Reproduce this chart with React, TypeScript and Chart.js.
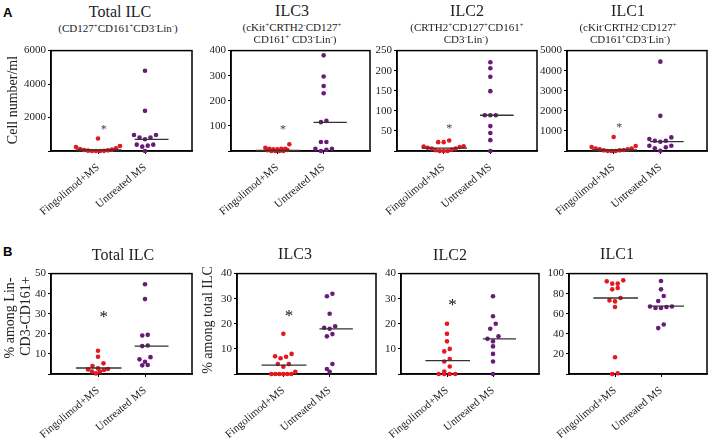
import React, { useEffect, useRef } from "react";
import { Chart, registerables } from "chart.js";

Chart.register(...registerables);

// ---------------- DATA ----------------
const categories = ["Fingolimod+MS", "Untreated MS"];

// Panel A: cell number/ml
const aTotalFingo = [750, 300, 240, 160, 120, 80, 60, 40, 20, 10, 0, 0, 0];
const aTotalUntreated = [4800, 2400, 960, 960, 800, 800, 700, 380, 380, 320, 260, 0];
const aTotalMedians = [60, 700];
const aTotalStar = 1400;

const aIlc3Fingo = [27, 13, 9, 9, 9, 7, 7, 4, 3, 0, 0, 0, 0];
const aIlc3Untreated = [381, 297, 259, 230, 120, 115, 36, 36, 9, 9, 5, 0];
const aIlc3Medians = [2, 114];
const aIlc3Star = 92;

const aIlc2Fingo = [26, 22, 22, 12, 11, 10, 8, 6, 6, 3, 2, 0, 0, 0];
const aIlc2Untreated = [221, 206, 185, 149, 89, 89, 89, 62, 45, 27, 0];
const aIlc2Medians = [7, 89];
const aIlc2Star = 60;

const aIlc1Fingo = [700, 250, 200, 117, 117, 83, 83, 50, 33, 33, 0, 0, 0];
const aIlc1Untreated = [4450, 1750, 677, 594, 512, 512, 462, 264, 264, 181, 132, 16];
const aIlc1Medians = [50, 470];
const aIlc1Star = 1280;

// Panel B: percentages
const bTotalFingo = [11.6, 8.6, 5.3, 4.0, 2.8, 2.5, 2.3, 2.0, 1.2, 1.2, 0.3];
const bTotalUntreated = [44.7, 37.3, 19.5, 19.2, 14.2, 13.9, 8.4, 7.3, 6.1, 4.5, 4.3];
const bTotalMedians = [3.0, 13.9];
const bTotalStar = 30;

const bIlc3Fingo = [16, 8, 7.1, 6.9, 6.3, 4, 4, 2.9, 0.9, 0, 0, 0, 0, 0, 0];
const bIlc3Untreated = [32, 31, 24, 19, 18.4, 18, 15.9, 15, 4, 2, 0.9];
const bIlc3Medians = [3.5, 18];
const bIlc3Star = 24.3;

const bIlc2Fingo = [20, 16, 13, 10, 9, 6, 5, 3, 1, 0, 0, 0, 0];
const bIlc2Untreated = [31, 23, 20, 18, 15, 14, 13, 11, 8, 5, 0];
const bIlc2Medians = [5.3, 14];
const bIlc2Star = 28.7;

const bIlc1Fingo = [93.3, 92.3, 90, 90, 85.7, 84.3, 75.7, 73.3, 72.3, 66.7, 16.7, 0.7, 0];
const bIlc1Untreated = [92.7, 84.3, 77.7, 72.7, 67.3, 67.3, 66.7, 65.7, 65.7, 49.3, 45.7];
const bIlc1Medians = [75.7, 67.7];
const bIlc1Star: number | null = null;

// y-axis ranges [max, step]
const axisA = { total: [6000, 2000], ilc3: [400, 100], ilc2: [250, 50], ilc1: [5000, 1000] };
const axisB = { total: [50, 10], ilc3: [40, 10], ilc2: [40, 10], ilc1: [100, 20] };

// ---------------- STYLE / LAYOUT ----------------
const FONT = "'Liberation Serif', 'Times New Roman', serif";
const RED = "#e5171f";
const PURPLE = "#6a1b78";
const YW = 40;
const TOP = 8;
const RIGHT = 4;
const XH = 75;

type PanelCfg = {
  plot: [number, number, number, number];
  yMax: number;
  step: number;
  red: number[];
  purple: number[];
  med: number[];
  star: number | null;
  starSize: number;
  starColor: string;
};

const panels: PanelCfg[] = [
  { plot: [51, 50, 192, 151], yMax: axisA.total[0], step: axisA.total[1], red: aTotalFingo, purple: aTotalUntreated, med: aTotalMedians, star: aTotalStar, starSize: 12, starColor: "#444" },
  { plot: [231, 50, 370, 151], yMax: axisA.ilc3[0], step: axisA.ilc3[1], red: aIlc3Fingo, purple: aIlc3Untreated, med: aIlc3Medians, star: aIlc3Star, starSize: 12, starColor: "#444" },
  { plot: [397, 50, 537, 151], yMax: axisA.ilc2[0], step: axisA.ilc2[1], red: aIlc2Fingo, purple: aIlc2Untreated, med: aIlc2Medians, star: aIlc2Star, starSize: 12, starColor: "#444" },
  { plot: [567, 50, 707, 151], yMax: axisA.ilc1[0], step: axisA.ilc1[1], red: aIlc1Fingo, purple: aIlc1Untreated, med: aIlc1Medians, star: aIlc1Star, starSize: 12, starColor: "#444" },
  { plot: [51, 273, 192, 374], yMax: axisB.total[0], step: axisB.total[1], red: bTotalFingo, purple: bTotalUntreated, med: bTotalMedians, star: bTotalStar, starSize: 17, starColor: "#111" },
  { plot: [237, 273, 376, 374], yMax: axisB.ilc3[0], step: axisB.ilc3[1], red: bIlc3Fingo, purple: bIlc3Untreated, med: bIlc3Medians, star: bIlc3Star, starSize: 17, starColor: "#111" },
  { plot: [401, 273, 539, 374], yMax: axisB.ilc2[0], step: axisB.ilc2[1], red: bIlc2Fingo, purple: bIlc2Untreated, med: bIlc2Medians, star: bIlc2Star, starSize: 17, starColor: "#111" },
  { plot: [569, 273, 707, 374], yMax: axisB.ilc1[0], step: axisB.ilc1[1], red: bIlc1Fingo, purple: bIlc1Untreated, med: bIlc1Medians, star: bIlc1Star, starSize: 17, starColor: "#111" },
];

// Scatter-dot layout: points closer than a dot row are spread horizontally
function swarm(values: number[], yMax: number, center: number, plotH: number, pxPerX: number) {
  const sorted = [...values].sort((a, b) => b - a);
  const groups: number[][] = [];
  let cur: number[] = [];
  for (const v of sorted) {
    if (cur.length && ((cur[0] - v) * plotH) / yMax > 5.5) {
      groups.push(cur);
      cur = [v];
    } else cur.push(v);
  }
  if (cur.length) groups.push(cur);
  const pts: { x: number; y: number }[] = [];
  for (const g of groups) {
    const n = g.length;
    const asc = [...g].sort((a, b) => a - b);
    const slots = Array.from({ length: n }, (_, i) => i - (n - 1) / 2).sort(
      (a, b) => Math.abs(a) - Math.abs(b) || a - b
    );
    const sp = n <= 5 ? 5.5 : 4.0;
    asc.forEach((v, k) => pts.push({ x: center + (slots[k] * sp) / pxPerX, y: v }));
  }
  return pts;
}

const framePlugin = {
  id: "frame",
  beforeDatasetsDraw(chart: any) {
    const { ctx, chartArea } = chart;
    ctx.save();
    ctx.strokeStyle = "#000";
    ctx.lineWidth = 1.5;
    ctx.strokeRect(chartArea.left, chartArea.top, chartArea.right - chartArea.left, chartArea.bottom - chartArea.top);
    ctx.restore();
  },
};

function PanelChart({ p }: { p: PanelCfg }) {
  const ref = useRef<HTMLCanvasElement | null>(null);
  const [l, t, r, b] = p.plot;
  const plotW = r - l;
  const plotH = b - t;
  const cw = plotW + YW + RIGHT;
  const ch = plotH + TOP + XH;

  useEffect(() => {
    if (!ref.current) return;
    const pxPerX = plotW / 3;
    const redPts = swarm(p.red, p.yMax, 1, plotH, pxPerX);
    const purPts = swarm(p.purple, p.yMax, 2, plotH, pxPerX);
    const starPlugin = {
      id: "star",
      afterDatasetsDraw(chart: any) {
        if (p.star === null) return;
        const { ctx, scales } = chart;
        ctx.save();
        ctx.fillStyle = p.starColor;
        ctx.font = `${p.starSize}px ${FONT}`;
        ctx.textAlign = "center";
        ctx.textBaseline = "middle";
        ctx.fillText("*", scales.x.getPixelForValue(1.12), scales.y.getPixelForValue(p.star) + p.starSize * 0.2);
        ctx.restore();
      },
    };
    const tickFont = { size: 11, family: FONT };
    const chart = new Chart(ref.current, {
      type: "scatter",
      data: {
        datasets: [
          { data: [{ x: 0.53, y: p.med[0] }, { x: 1.5, y: p.med[0] }], showLine: true, borderColor: "#333", borderWidth: 1.3, pointRadius: 0, clip: false } as any,
          { data: [{ x: 1.78, y: p.med[1] }, { x: 2.5, y: p.med[1] }], showLine: true, borderColor: "#333", borderWidth: 1.3, pointRadius: 0, clip: false } as any,
          { label: categories[0], data: redPts, backgroundColor: RED, borderWidth: 0, pointRadius: 2.3, clip: false } as any,
          { label: categories[1], data: purPts, backgroundColor: PURPLE, borderWidth: 0, pointRadius: 2.3, clip: false } as any,
        ],
      },
      plugins: [framePlugin, starPlugin],
      options: {
        animation: false,
        responsive: false,
        maintainAspectRatio: false,
        devicePixelRatio: 1,
        layout: { padding: { top: TOP, right: RIGHT, left: 0, bottom: 0 } },
        plugins: { legend: { display: false }, tooltip: { enabled: false } },
        scales: {
          x: {
            type: "linear",
            min: 0,
            max: 3,
            afterBuildTicks: (s: any) => {
              s.ticks = [{ value: 1 }, { value: 2 }];
            },
            afterFit: (s: any) => {
              s.height = XH;
            },
            ticks: {
              autoSkip: false,
              minRotation: 40,
              maxRotation: 40,
              padding: 7,
              color: "#222",
              font: tickFont,
              callback: (v: any) => (v === 1 ? categories[0] : v === 2 ? categories[1] : ""),
            },
            grid: { display: true, drawOnChartArea: false, drawTicks: true, tickLength: 3, color: "#000" },
            border: { display: true, color: "#000", width: 1.5 },
          },
          y: {
            min: 0,
            max: p.yMax,
            afterFit: (s: any) => {
              s.width = YW;
            },
            ticks: {
              stepSize: p.step,
              padding: 2,
              color: "#222",
              font: tickFont,
              callback: (v: any) => (v === 0 ? "" : String(v)),
            },
            grid: { display: true, drawOnChartArea: false, drawTicks: true, tickLength: 3, color: "#000" },
            border: { display: true, color: "#000", width: 1.5 },
          },
        },
      } as any,
    });
    return () => chart.destroy();
  }, []);

  return (
    <canvas
      ref={ref}
      width={cw}
      height={ch}
      style={{ position: "absolute", left: l - YW, top: t - TOP, width: cw, height: ch }}
    />
  );
}

const Sup = ({ c }: { c: string }) => (
  <span style={{ fontSize: 7, position: "relative", top: -4 }}>{c}</span>
);

function Text({ cx, cy, size, children, rotate }: { cx: number; cy: number; size: number; children: any; rotate?: boolean }) {
  const w = 220;
  const h = Math.round((size * 1.2) / 2) * 2;
  return (
    <div
      style={{
        position: "absolute",
        left: cx - w / 2,
        top: cy - h / 2,
        width: w,
        height: h,
        lineHeight: `${h}px`,
        fontSize: size,
        fontFamily: FONT,
        color: "#222",
        textAlign: "center",
        whiteSpace: "nowrap",
        transform: rotate ? "rotate(-90deg)" : undefined,
        transformOrigin: "center center",
      }}
    >
      {children}
    </div>
  );
}

export default function App() {
  return (
    <div style={{ position: "absolute", left: 0, top: 0, width: 713, height: 441, background: "#fff", overflow: "hidden" }}>
      {panels.map((p, i) => (
        <PanelChart key={i} p={p} />
      ))}
      {/* Panel letters */}
      <div style={{ position: "absolute", left: 3, top: 5, fontFamily: "'Liberation Sans', Arial, sans-serif", fontWeight: "bold", fontSize: 13 }}>A</div>
      <div style={{ position: "absolute", left: 3, top: 244, fontFamily: "'Liberation Sans', Arial, sans-serif", fontWeight: "bold", fontSize: 13 }}>B</div>

      {/* Row A titles */}
      <Text cx={120} cy={12} size={16}>Total ILC</Text>
      <Text cx={118} cy={28} size={11}>(CD127<Sup c="+" />CD161<Sup c="+" />CD3<Sup c="-" />Lin<Sup c="-" />)</Text>
      <Text cx={292} cy={11} size={16}>ILC3</Text>
      <Text cx={292} cy={27} size={11}>(cKit<Sup c="+" />CRTH2<Sup c="-" />CD127<Sup c="+" /></Text>
      <Text cx={295} cy={39} size={11}>CD161<Sup c="+" /> CD3<Sup c="-" />Lin<Sup c="-" />)</Text>
      <Text cx={467} cy={11} size={16}>ILC2</Text>
      <Text cx={467} cy={27} size={11}>(CRTH2<Sup c="+" />CD127<Sup c="+" />CD161<Sup c="+" /></Text>
      <Text cx={466} cy={39} size={11}>CD3<Sup c="-" />Lin<Sup c="-" />)</Text>
      <Text cx={628} cy={11} size={16}>ILC1</Text>
      <Text cx={628} cy={27} size={11}>(cKit<Sup c="-" />CRTH2<Sup c="-" />CD127<Sup c="+" /></Text>
      <Text cx={630} cy={39} size={11}>CD161<Sup c="+" />CD3<Sup c="-" />Lin<Sup c="-" />)</Text>

      {/* Row B titles */}
      <Text cx={123} cy={255} size={16}>Total ILC</Text>
      <Text cx={295} cy={254} size={16}>ILC3</Text>
      <Text cx={450} cy={255} size={16}>ILC2</Text>
      <Text cx={617} cy={254} size={16}>ILC1</Text>

      {/* Axis titles */}
      <Text cx={13} cy={100} size={14} rotate>Cell number/ml</Text>
      <Text cx={10} cy={318} size={14} rotate>% among  Lin-</Text>
      <Text cx={26} cy={316} size={14} rotate>CD3-CD161+</Text>
      <Text cx={208} cy={320} size={14} rotate>% among total ILC</Text>
    </div>
  );
}
